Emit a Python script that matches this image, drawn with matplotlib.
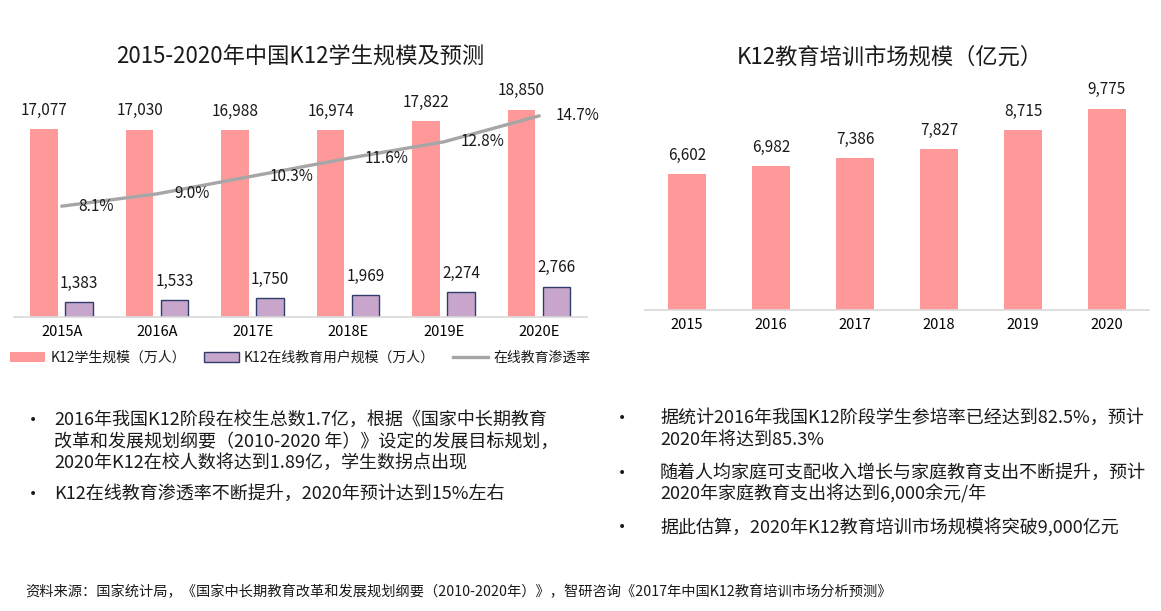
import matplotlib
matplotlib.use("Agg")
import matplotlib.pyplot as plt
from matplotlib.patches import Patch
from matplotlib.lines import Line2D

plt.rcParams['font.family'] = ['Noto Sans CJK SC', 'DejaVu Sans']
plt.rcParams['text.color'] = '#1a1a1a'

# data
years_left = ["2015A", "2016A", "2017E", "2018E", "2019E", "2020E"]
students = [17077, 17030, 16988, 16974, 17822, 18850]
online_users = [1383, 1533, 1750, 1969, 2274, 2766]
penetration = [8.1, 9.0, 10.3, 11.6, 12.8, 14.7]

years_right = ["2015", "2016", "2017", "2018", "2019", "2020"]
market = [6602, 6982, 7386, 7827, 8715, 9775]

title_left = "2015-2020年中国K12学生规模及预测"
title_right = "K12教育培训市场规模（亿元）"
legend_labels = ["K12学生规模（万人）", "K12在线教育用户规模（万人）", "在线教育渗透率"]

bullets_left = [
    ["2016年我国K12阶段在校生总数1.7亿，根据《国家中长期教育",
     "改革和发展规划纲要（2010-2020 年）》设定的发展目标规划，",
     "2020年K12在校人数将达到1.89亿，学生数拐点出现"],
    ["K12在线教育渗透率不断提升，2020年预计达到15%左右"],
]
bullets_right = [
    ["据统计2016年我国K12阶段学生参培率已经达到82.5%，预计",
     "2020年将达到85.3%"],
    ["随着人均家庭可支配收入增长与家庭教育支出不断提升，预计",
     "2020年家庭教育支出将达到6,000余元/年"],
    ["据此估算，2020年K12教育培训市场规模将突破9,000亿元"],
]
source = "资料来源：国家统计局，《国家中长期教育改革和发展规划纲要（2010-2020年）》，智研咨询《2017年中国K12教育培训市场分析预测》"

PINK = "#FF9999"
PURPLE = "#C8A6CC"
NAVY = "#2F3D6B"
GREY = "#A6A6A6"
AXIS = "#D9D9D9"

W, H = 1161, 611
fig = plt.figure(figsize=(W / 100, H / 100), dpi=100)


def px_axes(x0, y_top, x1, y_base):
    return fig.add_axes([x0 / W, 1 - y_base / H, (x1 - x0) / W, (y_base - y_top) / H])


def style(ax):
    for s in ["top", "right", "left"]:
        ax.spines[s].set_visible(False)
    ax.spines["bottom"].set_color(AXIS)
    ax.spines["bottom"].set_linewidth(1.2)
    ax.set_yticks([])
    ax.tick_params(axis="x", length=0, pad=6, labelsize=10.5)
    ax.set_xlim(-0.5, 5.5)


# left chart
ax1 = px_axes(14, 80, 587, 317)
style(ax1)
x = range(len(years_left))
b1 = ax1.bar([i - 0.185 for i in x], students, width=0.29, color=PINK)
b2 = ax1.bar([i + 0.18 for i in x], online_users, width=0.29, color=PURPLE,
             edgecolor=NAVY, linewidth=1.0)
ax1.set_ylim(0, 21530)
ax1.set_xticks(list(x))
ax1.set_xticklabels(years_left)
for bars, vals in [(b1, students), (b2, online_users)]:
    for r, v in zip(bars, vals):
        ax1.annotate(f"{v:,}", (r.get_x() + r.get_width() / 2, v), xytext=(0, 13.5),
                     textcoords="offset points", ha="center", va="center", fontsize=11)

ax1b = ax1.twinx()
ax1b.plot(list(x), penetration, color=GREY, lw=2.4, solid_capstyle="round")
ax1b.set_ylim(0, 17.32)
ax1b.axis("off")
for i, v in zip(x, penetration):
    ax1b.annotate(f"{v:.1f}%", (i, v), xytext=(12, 0), textcoords="offset points",
                  ha="left", va="center", fontsize=11)

fig.text(300 / W, 1 - 57 / H, title_left, ha="center", va="center", fontsize=16)

handles = [Patch(facecolor=PINK, edgecolor="none"),
           Patch(facecolor=PURPLE, edgecolor=NAVY, linewidth=1.0),
           Line2D([0], [0], color=GREY, lw=2.4)]
fig.legend(handles, legend_labels, loc="center left", bbox_to_anchor=(10 / W, 1 - 358 / H),
           ncol=3, frameon=False, fontsize=10, handlelength=2.5, handleheight=0.75,
           handletextpad=0.4, columnspacing=1.3, borderpad=0, borderaxespad=0)

# right chart
ax2 = px_axes(645, 80, 1149, 310)
style(ax2)
xr = range(len(years_right))
b3 = ax2.bar(list(xr), market, width=0.45, color=PINK)
ax2.set_ylim(0, 11165)
ax2.set_xticks(list(xr))
ax2.set_xticklabels(years_right)
for r, v in zip(b3, market):
    ax2.annotate(f"{v:,}", (r.get_x() + r.get_width() / 2, v), xytext=(0, 13.5),
                 textcoords="offset points", ha="center", va="center", fontsize=11)

fig.text(890 / W, 1 - 57 / H, title_right, ha="center", va="center", fontsize=16)


# bullet text
def draw_bullets(groups, xb, xt, ys):
    k = 0
    for g in groups:
        for j, line in enumerate(g):
            y = 1 - ys[k] / H
            if j == 0:
                fig.text(xb / W, y, "•", ha="center", va="center", fontsize=10,
                         family="DejaVu Sans")
            fig.text(xt / W, y, line, ha="left", va="center", fontsize=13)
            k += 1


draw_bullets(bullets_left, 33, 54, [420, 442, 463, 494])
draw_bullets(bullets_right, 622, 660, [418, 440, 473, 494, 527])

fig.text(25 / W, 1 - 592 / H, source, ha="left", va="center", fontsize=10.25)

fig.savefig("out.png", dpi=100)
